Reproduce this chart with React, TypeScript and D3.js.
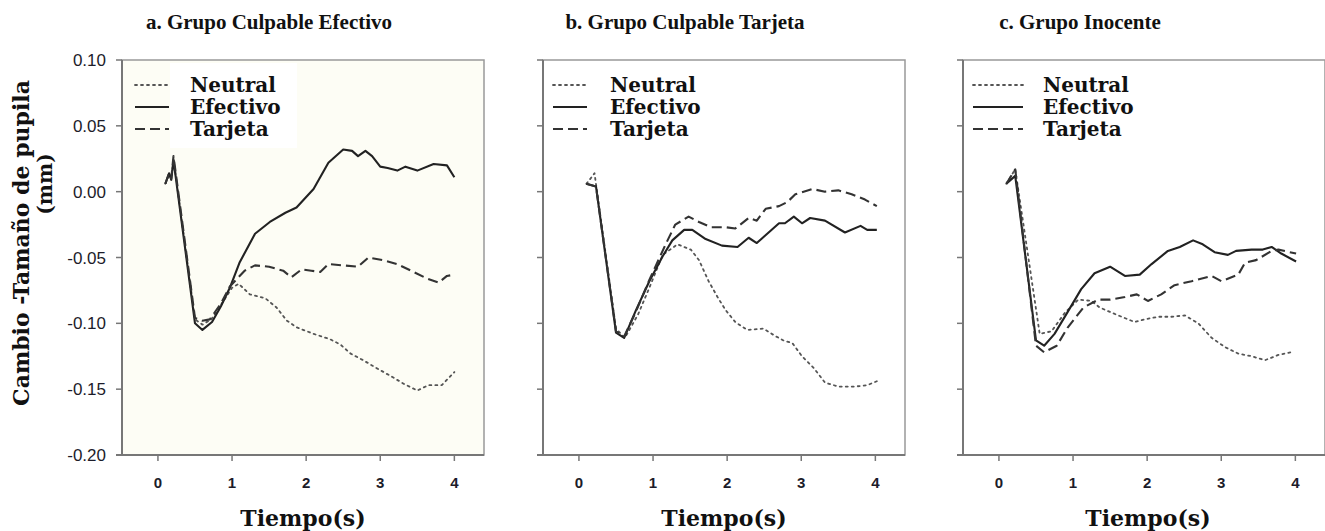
import React, { useRef, useEffect } from "react";
import * as d3 from "d3";

type Pt = [number, number];

// Títulos de cada panel
const panelTitles = [
  "a. Grupo Culpable Efectivo",
  "b. Grupo Culpable Tarjeta",
  "c. Grupo Inocente",
];
const seriesNames = ["Neutral", "Efectivo", "Tarjeta"];
const xTicks = [0, 1, 2, 3, 4];
const yTicks = [0.1, 0.05, 0, -0.05, -0.1, -0.15, -0.2];

// Panel a. Grupo Culpable Efectivo
const neutralA: Pt[] = [
  [0.1, 0.006], [0.15, 0.013], [0.18, 0.01], [0.21, 0.025], [0.5, -0.097], [0.6, -0.101],
  [0.72, -0.097], [0.85, -0.086], [1.0, -0.073], [1.09, -0.07], [1.24, -0.078], [1.45, -0.081],
  [1.6, -0.088], [1.74, -0.098], [1.87, -0.103], [2.1, -0.108], [2.32, -0.112], [2.46, -0.116],
  [2.6, -0.123], [2.77, -0.128], [2.95, -0.134], [3.14, -0.14], [3.32, -0.146], [3.5, -0.151],
  [3.65, -0.147], [3.83, -0.147], [4.0, -0.137],
];
const efectivoA: Pt[] = [
  [0.1, 0.006], [0.15, 0.014], [0.18, 0.009], [0.21, 0.024], [0.5, -0.1], [0.6, -0.105],
  [0.73, -0.099], [0.85, -0.087], [0.97, -0.073], [1.1, -0.054], [1.31, -0.032], [1.51, -0.023],
  [1.72, -0.016], [1.87, -0.012], [2.1, 0.002], [2.3, 0.022], [2.5, 0.032], [2.62, 0.031],
  [2.7, 0.027], [2.8, 0.031], [2.89, 0.027], [3.0, 0.019], [3.1, 0.018], [3.23, 0.016],
  [3.34, 0.019], [3.5, 0.016], [3.72, 0.021], [3.9, 0.02], [4.0, 0.011],
];
const tarjetaA: Pt[] = [
  [0.1, 0.006], [0.15, 0.014], [0.18, 0.01], [0.21, 0.027], [0.5, -0.096], [0.6, -0.098],
  [0.7, -0.097], [0.85, -0.085], [0.97, -0.072], [1.17, -0.06], [1.31, -0.056], [1.5, -0.057],
  [1.69, -0.06], [1.8, -0.065], [1.94, -0.059], [2.07, -0.06], [2.19, -0.061], [2.3, -0.055],
  [2.5, -0.056], [2.7, -0.057], [2.84, -0.05], [3.04, -0.052], [3.23, -0.055], [3.45, -0.061],
  [3.63, -0.066], [3.79, -0.069], [3.9, -0.064], [4.0, -0.063],
];

// Panel b. Grupo Culpable Tarjeta
const neutralB: Pt[] = [
  [0.1, 0.006], [0.13, 0.008], [0.21, 0.014], [0.5, -0.104], [0.62, -0.111], [0.8, -0.093],
  [0.95, -0.073], [1.13, -0.048], [1.33, -0.04], [1.51, -0.044], [1.62, -0.052], [1.75, -0.068],
  [1.87, -0.08], [1.98, -0.09], [2.11, -0.099], [2.27, -0.105], [2.49, -0.104], [2.63, -0.109],
  [2.76, -0.113], [2.88, -0.115], [3.01, -0.125], [3.17, -0.134], [3.32, -0.145], [3.5, -0.148],
  [3.73, -0.148], [3.89, -0.147], [4.02, -0.144],
];
const efectivoB: Pt[] = [
  [0.1, 0.006], [0.23, 0.004], [0.5, -0.107], [0.61, -0.111], [0.77, -0.09], [0.95, -0.068],
  [1.13, -0.049], [1.26, -0.037], [1.42, -0.029], [1.53, -0.029], [1.71, -0.036], [1.93, -0.041],
  [2.14, -0.042], [2.29, -0.035], [2.4, -0.039], [2.7, -0.024], [2.78, -0.024], [2.9, -0.019],
  [3.01, -0.024], [3.12, -0.02], [3.32, -0.022], [3.59, -0.031], [3.8, -0.026], [3.89, -0.029],
  [4.02, -0.029],
];
const tarjetaB: Pt[] = [
  [0.1, 0.006], [0.23, 0.004], [0.5, -0.106], [0.61, -0.11], [0.77, -0.091], [0.95, -0.067],
  [1.17, -0.04], [1.3, -0.025], [1.48, -0.019], [1.62, -0.023], [1.78, -0.027], [1.98, -0.027],
  [2.11, -0.028], [2.29, -0.02], [2.4, -0.022], [2.52, -0.013], [2.7, -0.011], [2.81, -0.008],
  [2.92, -0.002], [3.15, 0.002], [3.32, 0.0], [3.5, 0.001], [3.68, -0.002], [3.86, -0.006],
  [4.02, -0.011],
];

// Panel c. Grupo Inocente
const neutralC: Pt[] = [
  [0.1, 0.006], [0.22, 0.017], [0.55, -0.108], [0.71, -0.106], [0.89, -0.092], [1.07, -0.082],
  [1.25, -0.083], [1.36, -0.088], [1.61, -0.094], [1.83, -0.099], [1.97, -0.097], [2.15, -0.095],
  [2.33, -0.095], [2.51, -0.094], [2.69, -0.1], [2.87, -0.111], [3.05, -0.118], [3.23, -0.123],
  [3.41, -0.125], [3.59, -0.128], [3.77, -0.124], [3.94, -0.122],
];
const efectivoC: Pt[] = [
  [0.1, 0.006], [0.22, 0.012], [0.5, -0.113], [0.61, -0.117], [0.75, -0.108], [0.91, -0.093],
  [1.11, -0.074], [1.29, -0.062], [1.5, -0.057], [1.7, -0.064], [1.9, -0.063], [2.06, -0.055],
  [2.28, -0.045], [2.44, -0.042], [2.62, -0.037], [2.75, -0.04], [2.91, -0.046], [3.09, -0.048],
  [3.2, -0.045], [3.41, -0.044], [3.56, -0.044], [3.68, -0.042], [3.81, -0.047], [4.01, -0.053],
];
const tarjetaC: Pt[] = [
  [0.1, 0.006], [0.22, 0.017], [0.5, -0.117], [0.61, -0.122], [0.78, -0.117], [0.93, -0.103],
  [1.14, -0.088], [1.34, -0.082], [1.5, -0.082], [1.7, -0.08], [1.86, -0.078], [2.01, -0.083],
  [2.19, -0.078], [2.37, -0.071], [2.6, -0.068], [2.87, -0.064], [3.0, -0.068], [3.23, -0.063],
  [3.32, -0.054], [3.47, -0.052], [3.68, -0.045], [3.77, -0.044], [4.01, -0.047],
];

const panels = [
  { title: panelTitles[0], series: [neutralA, efectivoA, tarjetaA] },
  { title: panelTitles[1], series: [neutralB, efectivoB, tarjetaB] },
  { title: panelTitles[2], series: [neutralC, efectivoC, tarjetaC] },
];

const App = () => {
  const svgRef = useRef<SVGSVGElement>(null);

  useEffect(() => {
    const svg = d3.select(svgRef.current);
    svg.selectAll("*").remove();

    const W = 1325;
    const H = 531;
    const top = 60;
    const bottom = 455;
    const pw = 362;
    const lefts = [122, 543, 963];
    const serif = "'DejaVu Serif', serif";
    const titleFont = "'Liberation Serif', serif";
    const sans = "'Liberation Sans', Arial, sans-serif";

    svg.append("rect").attr("width", W).attr("height", H).attr("fill", "#fff");

    const y = d3.scaleLinear().domain([-0.2, 0.1]).range([bottom, top]);

    // estilos de línea: punteada, continua, discontinua
    const styles = [
      { dash: "2,4", color: "#555", width: 1.8, cap: "round" },
      { dash: null, color: "#222", width: 2.1, cap: "butt" },
      { dash: "10,5", color: "#333", width: 2.1, cap: "butt" },
    ];

    panels.forEach((p, i) => {
      const left = lefts[i];
      const x = d3.scaleLinear().domain([-0.485, 4.4]).range([left, left + pw]);
      const g = svg.append("g");

      // fondo (el panel a es color crema)
      g.append("rect")
        .attr("x", left).attr("y", top)
        .attr("width", pw).attr("height", bottom - top)
        .attr("fill", i === 0 ? "#fdfdf5" : "#fff")
        .attr("stroke", "#999").attr("stroke-width", 1.5);

      // ejes
      g.append("line").attr("x1", left).attr("x2", left).attr("y1", top).attr("y2", bottom)
        .attr("stroke", "#777").attr("stroke-width", 2);
      g.append("line").attr("x1", left - 6).attr("x2", left + pw).attr("y1", bottom).attr("y2", bottom)
        .attr("stroke", "#777").attr("stroke-width", 2);

      yTicks.forEach(t => {
        g.append("line").attr("x1", left - 6).attr("x2", left).attr("y1", y(t)).attr("y2", y(t))
          .attr("stroke", "#777").attr("stroke-width", 1.5);
        if (i === 0) {
          g.append("text").attr("x", left - 16).attr("y", y(t) + 6)
            .attr("text-anchor", "end").attr("font-family", sans).attr("font-size", 17)
            .attr("fill", "#1c1c2a").text(t.toFixed(2));
        }
      });
      xTicks.forEach(t => {
        g.append("line").attr("x1", x(t)).attr("x2", x(t)).attr("y1", bottom).attr("y2", bottom + 6)
          .attr("stroke", "#777").attr("stroke-width", 1.5);
        g.append("text").attr("x", x(t)).attr("y", bottom + 33)
          .attr("text-anchor", "middle").attr("font-family", sans).attr("font-size", 15)
          .attr("font-weight", "bold").attr("fill", "#1c1c2a").text(t);
      });

      // curvas
      const line = d3.line<Pt>().x(d => x(d[0])).y(d => y(d[1]));
      p.series.forEach((s, k) => {
        const st = styles[k];
        g.append("path").datum(s)
          .attr("fill", "none").attr("stroke", st.color).attr("stroke-width", st.width)
          .attr("stroke-linecap", st.cap).attr("stroke-linejoin", "round")
          .attr("stroke-dasharray", st.dash)
          .attr("d", line);
      });

      // leyenda
      const lx = [135, 553, 973][i];
      const tx = [190, 610, 1043][i];
      if (i === 0) {
        g.append("rect").attr("x", 170).attr("y", 63).attr("width", 127).attr("height", 85).attr("fill", "#fff");
      }
      seriesNames.forEach((name, k) => {
        const ly = 85 + k * 22;
        const st = styles[k];
        g.append("line").attr("x1", lx).attr("x2", lx + (i === 2 ? 50 : 34)).attr("y1", ly).attr("y2", ly)
          .attr("stroke", st.color).attr("stroke-width", st.width)
          .attr("stroke-dasharray", st.dash).attr("stroke-linecap", st.cap);
        g.append("text").attr("x", tx).attr("y", ly + 7)
          .attr("font-family", serif).attr("font-weight", "bold").attr("font-size", 20)
          .attr("fill", "#111").text(name);
      });

      // título y etiqueta del eje x
      g.append("text").attr("x", [269, 685, 1080][i]).attr("y", 29)
        .attr("text-anchor", "middle").attr("font-family", titleFont).attr("font-weight", "bold")
        .attr("font-size", 21).attr("fill", "#111").text(p.title);
      g.append("text").attr("x", left + pw / 2 + (i === 2 ? 4 : 0)).attr("y", 526)
        .attr("text-anchor", "middle").attr("font-family", serif).attr("font-weight", "bold")
        .attr("font-size", 22).attr("fill", "#111").text("Tiempo(s)");
    });

    // etiqueta del eje y
    svg.append("text").attr("transform", "translate(29,243) rotate(-90)")
      .attr("text-anchor", "middle").attr("font-family", serif).attr("font-weight", "bold")
      .attr("font-size", 22).attr("fill", "#111").text("Cambio -Tamaño de pupila");
    svg.append("text").attr("transform", "translate(52,184) rotate(-90)")
      .attr("text-anchor", "middle").attr("font-family", serif).attr("font-weight", "bold")
      .attr("font-size", 20).attr("fill", "#111").text("(mm)");
  }, []);

  return (
    <svg ref={svgRef} width={1325} height={531}
      style={{ position: "absolute", left: 0, top: 0, display: "block" }} />
  );
};

export default App;
